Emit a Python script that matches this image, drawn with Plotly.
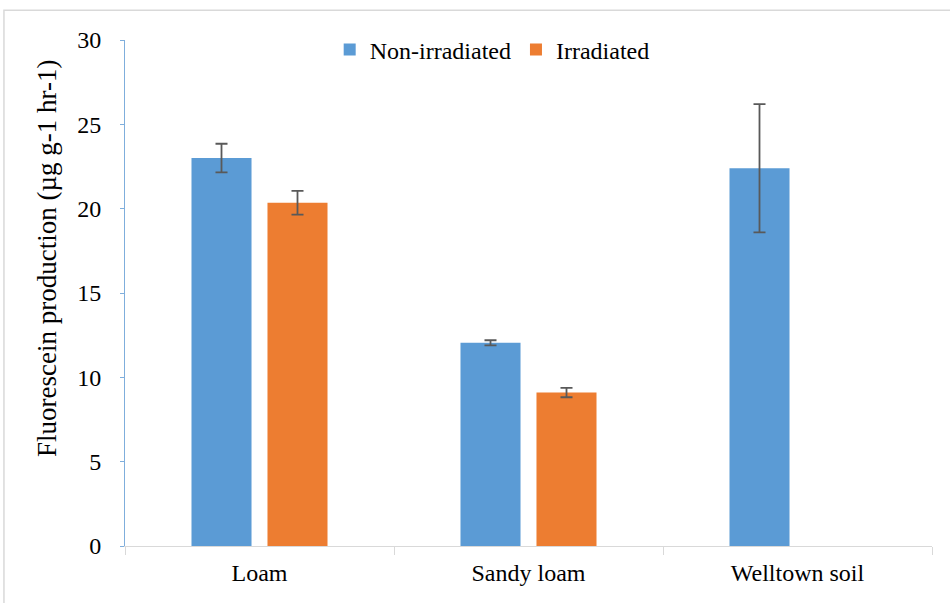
import plotly.graph_objects as go

categories = ["Loam", "Sandy loam", "Welltown soil"]
non_irradiated = [23.0, 12.05, 22.4]
non_irradiated_err = [0.85, 0.15, 3.8]
irradiated = [20.35, 9.1, None]
irradiated_err = [0.7, 0.28, None]
y_ticks = [0, 5, 10, 15, 20, 25, 30]
y_title = "Fluorescein production (µg g-1 hr-1)"

FONT = "Times New Roman, Liberation Serif, serif"
ERR_COLOR = "#595959"

fig = go.Figure()
fig.add_trace(go.Bar(
    x=categories, y=non_irradiated, name="Non-irradiated",
    marker=dict(color="#5B9BD5", line=dict(width=0)),
    error_y=dict(type="data", array=non_irradiated_err, color=ERR_COLOR, thickness=1.8, width=6),
))
fig.add_trace(go.Bar(
    x=categories, y=irradiated, name="Irradiated",
    marker=dict(color="#ED7D31", line=dict(width=0)),
    error_y=dict(type="data", array=irradiated_err, color=ERR_COLOR, thickness=1.8, width=6),
))

fig.update_layout(
    width=950, height=603,
    margin=dict(l=125, r=18, t=40, b=57),
    paper_bgcolor="white", plot_bgcolor="white",
    barmode="group", bargap=0.435, bargroupgap=0.21,
    font=dict(family=FONT, size=24, color="black"),
    showlegend=True,
    legend=dict(orientation="h", x=0.455, xanchor="center", y=1.025, yanchor="top",
                font=dict(family=FONT, size=24), itemwidth=30, traceorder="normal",
                bgcolor="rgba(0,0,0,0)"),
    xaxis=dict(
        type="category", showline=True, linecolor="#D9D9D9", linewidth=1,
        ticks="outside", tickson="boundaries", ticklen=8, tickcolor="#D9D9D9",
        showgrid=False, tickfont=dict(family=FONT, size=24), ticklabelstandoff=5,
    ),
    yaxis=dict(
        range=[0, 30], tickvals=y_ticks, showline=True, linecolor="#7FAEDC", linewidth=1,
        ticks="outside", ticklen=4, tickcolor="#7FAEDC", showgrid=False, zeroline=False,
        tickfont=dict(family=FONT, size=24), ticklabelstandoff=14,
    ),
    annotations=[dict(text=y_title, xref="paper", yref="paper", x=-0.0967, y=0.569,
                      xanchor="center", yanchor="middle", textangle=-90, showarrow=False,
                      font=dict(family=FONT, size=27, color="black"))],
    shapes=[dict(type="rect", xref="paper", yref="paper", x0=-0.150, x1=1.1, y0=-0.2, y1=1.059,
                 line=dict(color="#D9D9D9", width=1.5), fillcolor="rgba(0,0,0,0)", layer="below")],
)

fig.write_html("out.html", config={"displayModeBar": False},
               post_script="document.body.style.margin='0';")
